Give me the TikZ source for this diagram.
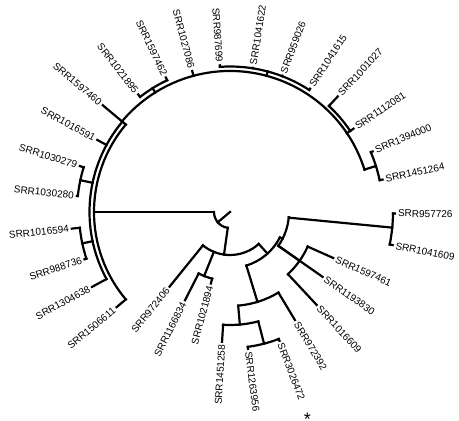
\documentclass[tikz,border=0pt]{standalone}
\usepackage{fontspec}
\setmainfont{Liberation Sans}
\begin{document}
\begin{tikzpicture}[x=1pt,y=1pt,line width=2.2pt,line cap=rect,
    lab/.style={font=\fontsize{10}{12}\selectfont,inner sep=2pt}]
  \useasboundingbox (-230,-209) rectangle (229,212);
  % root
  \draw (220:16) -- (0,0);
  \draw (180:16) -- (180:136);
  \draw (180:16) arc[start angle=180,end angle=262,radius=16pt];
  \draw (262:16) -- (262:43);
  % clade arcs
  \foreach \r/\a/\b in {136/140/220, 140.5/140/208.5, 153/163/174, 151/186/198,
      141/17.5/140, 146/115.5/128, 145.5/57/94, 145/34/47, 153/12/23,
      43/231/312, 69/243/255, 56/287/333, 94/275/301, 113/266.5/284.5,
      136/277.5/291, 59/325/355, 163/348.5/359.5, 85/313/336}
    \draw (\a:\r) arc[start angle=\a,end angle=\b,radius=\r pt];
  % inner branches
  \foreach \a/\ra/\rb in {168/140.5/153, 192/140.5/151, 122/141/146, 75/141/145.5,
      34/141/145, 17.5/141/153, 248/43/69, 312/43/56, 287/56/94, 275/94/113,
      284.5/113/136, 333/56/59, 354.5/59/163, 325/59/85}
    \draw (\a:\ra) -- (\a:\rb);
  % leaves, right half
  \foreach \a/\ra/\rb/\t in {81/145.5/146/SRR1041622, 69/145.5/146/SRR959026,
      57/145.5/147/SRR1041615, 47/145/158/SRR1001027, 34/145/149/SRR1112081,
      23/153/155/SRR1394000, 12/153/156/SRR1451264, 359.5/163/165/SRR957726,
      348.5/163/166/SRR1041609, 336/85/113/SRR1597461, 325/59/113/SRR1193830,
      313/85/127/SRR1016609, 301/94/126/SRR972392, 291/136/138/SRR3026472,
      277.5/136/138/SRR1263956} {
    \draw (\a:\ra) -- (\a:\rb);
    \node[lab,anchor=west,rotate=\a] (\t) at (\a:\rb) {\t};
  }
  % leaves, left half
  \foreach \a/\ra/\rb/\t in {266.5/113/130/SRR1451258, 255/69/74/SRR1021894,
      243/69/99/SRR1166834, 231/43/96/SRR972406, 220/136/148/SRR1506611,
      208.5/140.5/157/SRR1304638, 198/151/153/SRR988736, 186/151/159/SRR1016594,
      174/153/154/SRR1030280, 163/153/157/SRR1030279, 151.5/140.5/151/SRR1016591,
      140/136/166/SRR1597460, 128/146/149/SRR1021895, 115.5/146/149/SRR1597462,
      105/141/146/SRR1027086, 94/145.5/147/SRR987699} {
    \draw (\a:\ra) -- (\a:\rb);
    \node[lab,anchor=east,rotate=\a-180] (\t) at (\a:\rb) {\t};
  }
  \node[lab,inner sep=0pt,font=\fontsize{18}{18}\selectfont] (star) at (290.5:221) {*};
\end{tikzpicture}
\end{document}
